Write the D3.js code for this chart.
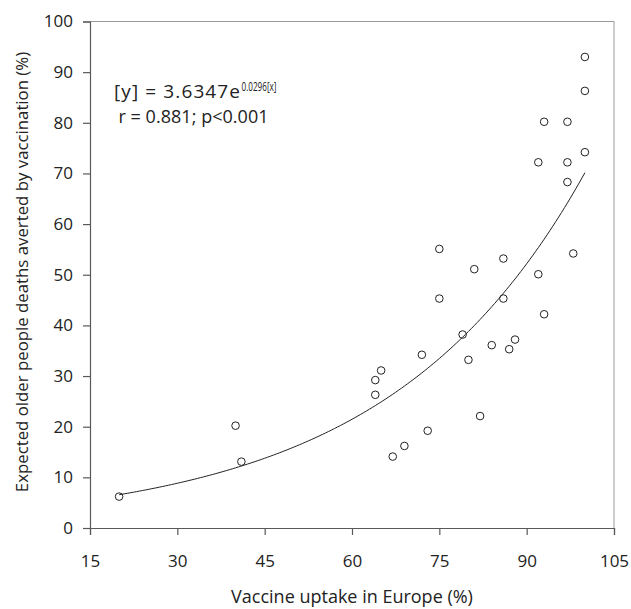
<!DOCTYPE html>
<html>
<head>
<meta charset="utf-8">
<script src="https://cdn.jsdelivr.net/npm/d3@7"></script>
<style>
  html, body { margin: 0; padding: 0; background: #fff; }
  svg { display: block; font-family: "Open Sans", "Noto Sans", sans-serif; }
</style>
</head>
<body>
<svg id="chart" width="631" height="609"></svg>
<script>
// ---- data ----
const uptake = [20, 40, 41, 64, 64, 65, 67, 69, 72, 73, 75, 75, 79, 80, 81, 82, 84, 86, 86, 87, 88, 92, 92, 93, 93, 97, 97, 97, 98, 100, 100, 100];
const averted = [6.2, 20.2, 13.1, 26.3, 29.2, 31.1, 14.1, 16.2, 34.2, 19.2, 55.1, 45.3, 38.2, 33.2, 51.1, 22.1, 36.1, 53.2, 45.3, 35.3, 37.2, 72.2, 50.1, 80.2, 42.2, 80.2, 72.2, 68.3, 54.2, 93, 86.3, 74.2];
const xTicks = [15, 30, 45, 60, 75, 90, 105];
const yTicks = [0, 10, 20, 30, 40, 50, 60, 70, 80, 90, 100];
// fitted curve printed on the chart: y = a * e^(b x)
const fitA = 3.6347, fitB = 0.0296;
const fitRange = [20, 100];
const xTitle = "Vaccine uptake in Europe (%)";
const yTitle = "Expected older people deaths averted by vaccination (%)";
const statText = "r = 0.881; p<0.001";

const svg = d3.select("#chart");
const pLeft = 90, pRight = 614, pTop = 21.5, pBottom = 528;

const x = d3.scaleLinear().domain([15, 105]).range([pLeft, pRight]);
const y = d3.scaleLinear().domain([0, 100]).range([pBottom, pTop]);

// frame (top and right)
svg.append("path")
  .attr("d", `M${pLeft},${pTop}H${pRight}V${pBottom}`)
  .attr("fill", "none").attr("stroke", "#9a9a9a").attr("stroke-width", 1);

// axes
const xAxis = svg.append("g").attr("transform", `translate(0,${pBottom})`)
  .call(d3.axisBottom(x).tickValues(xTicks).tickSize(7).tickPadding(20).tickFormat(d3.format("d")));
const yAxis = svg.append("g").attr("transform", `translate(${pLeft},0)`)
  .call(d3.axisLeft(y).tickValues(yTicks).tickSize(7).tickPadding(10).tickFormat(d3.format("d")));

[xAxis, yAxis].forEach(g => {
  g.select(".domain").attr("stroke", "#595959").attr("stroke-width", 1.2);
  g.selectAll(".tick line").attr("stroke", "#595959").attr("stroke-width", 1.2);
  g.selectAll(".tick text").attr("fill", "#222").style("font-size", "17px")
    .style("font-family", '"Open Sans", sans-serif');
});

// fitted curve
const curvePts = d3.range(fitRange[0], fitRange[1] + 0.001, 0.5).map(v => [v, fitA * Math.exp(fitB * v)]);
svg.append("path")
  .datum(curvePts)
  .attr("fill", "none").attr("stroke", "#222").attr("stroke-width", 1)
  .attr("d", d3.line().x(d => x(d[0])).y(d => y(d[1])));

// points
svg.append("g").selectAll("circle")
  .data(uptake.map((u, i) => [u, averted[i]]))
  .join("circle")
  .attr("cx", d => x(d[0])).attr("cy", d => y(d[1]))
  .attr("r", 3.8)
  .attr("fill", "none").attr("stroke", "#222").attr("stroke-width", 1);

// equation text
svg.append("text").attr("x", 114).attr("y", 98)
  .attr("fill", "#222").style("font-size", "19px")
  .attr("textLength", 126).attr("lengthAdjust", "spacing")
  .text("[y] = " + fitA + "e");
svg.append("text").attr("x", 241.5).attr("y", 91)
  .attr("fill", "#222").style("font-size", "12px")
  .attr("textLength", 35).attr("lengthAdjust", "spacingAndGlyphs")
  .text(fitB + "[x]");
svg.append("text").attr("x", 118.5).attr("y", 123)
  .attr("fill", "#222").style("font-size", "18px")
  .attr("textLength", 150).attr("lengthAdjust", "spacing")
  .text(statText);

// axis titles
svg.append("text").attr("x", 352).attr("y", 603)
  .attr("text-anchor", "middle").attr("fill", "#222").style("font-size", "18px")
  .text(xTitle);
svg.append("text")
  .attr("transform", `translate(28,272) rotate(-90)`)
  .attr("text-anchor", "middle").attr("fill", "#222").style("font-size", "16.8px")
  .text(yTitle);
</script>
</body>
</html>
